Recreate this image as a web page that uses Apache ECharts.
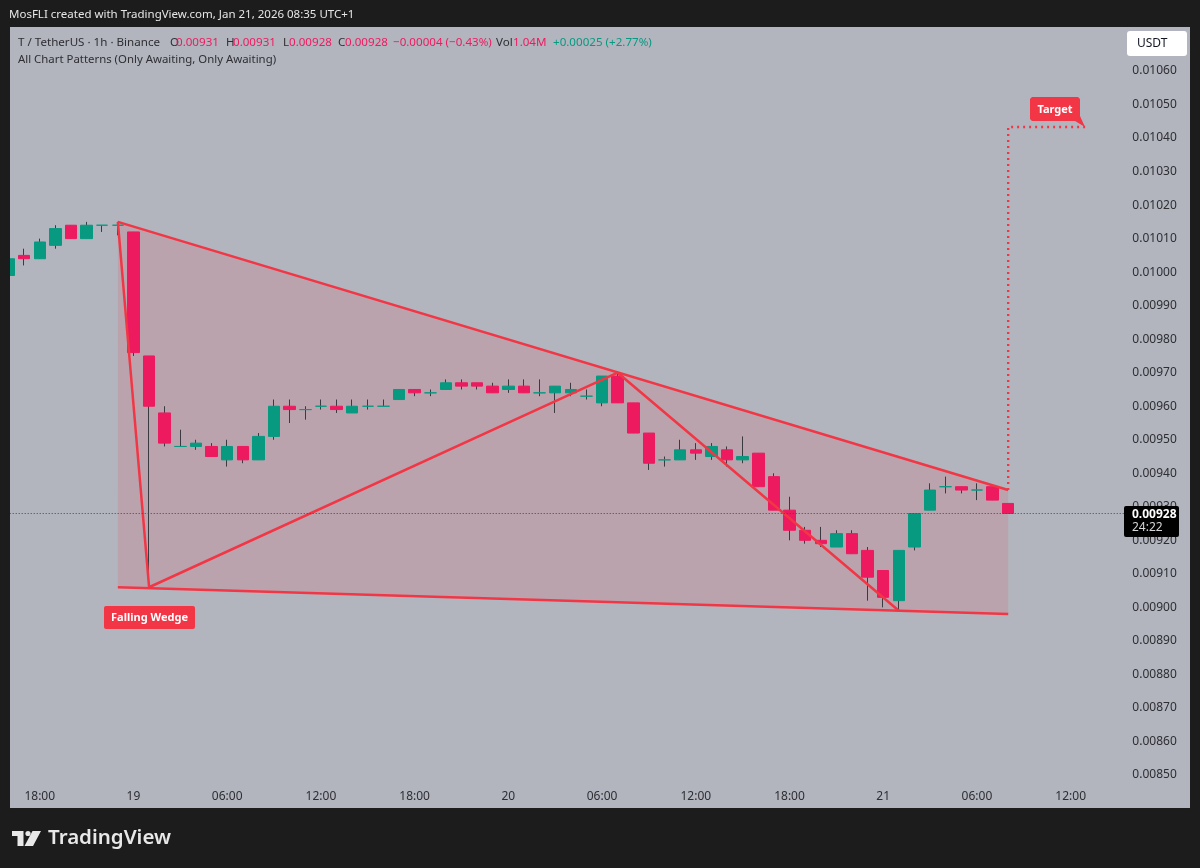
<!DOCTYPE html>
<html>
<head>
    <meta charset="utf-8">
    <title>T / TetherUS 1h</title>
    <script type="text/javascript" src="https://cdn.jsdelivr.net/npm/echarts@6/dist/echarts.min.js"></script>
    <style type="text/css">
        html, body { margin: 0; padding: 0; background: #1c1c1c; }
        #main { width: 1200px; height: 868px; }
    </style>
</head>
<body>
    <div id="main"></div>
    <script type="text/javascript">
        // hourly candles, starting at 16:00 on the 18th
        var opens = [0.00999,0.01005,0.01004,0.01008,0.01014,0.01010,0.01014,0.01014,0.01012,0.00975,
            0.00958,0.00948,0.00948,0.00948,0.00944,0.00948,0.00944,0.00951,0.00960,0.00959,
            0.00960,0.00960,0.00958,0.00960,0.00960,0.00962,0.00965,0.00964,0.00965,0.00967,
            0.00967,0.00966,0.00965,0.00966,0.00964,0.00964,0.00964,0.00963,0.00961,0.00969,
            0.00961,0.00952,0.00944,0.00944,0.00947,0.00945,0.00947,0.00944,0.00946,0.00939,
            0.00929,0.00923,0.00920,0.00918,0.00922,0.00917,0.00911,0.00902,0.00918,0.00929,
            0.00936,0.00936,0.00935,0.00936,0.00931];
        var closes = [0.01004,0.01004,0.01009,0.01013,0.01010,0.01014,0.01014,0.01014,0.00976,0.00960,
            0.00949,0.00948,0.00949,0.00945,0.00948,0.00944,0.00951,0.00960,0.00959,0.00959,
            0.00960,0.00959,0.00960,0.00960,0.00960,0.00965,0.00964,0.00964,0.00967,0.00966,
            0.00966,0.00964,0.00966,0.00964,0.00964,0.00966,0.00965,0.00963,0.00969,0.00961,
            0.00952,0.00943,0.00944,0.00947,0.00946,0.00948,0.00944,0.00945,0.00936,0.00929,
            0.00923,0.00920,0.00919,0.00922,0.00916,0.00909,0.00903,0.00917,0.00928,0.00935,
            0.00936,0.00935,0.00935,0.00932,0.00928];
        var lows = [0.00999,0.01002,0.01004,0.01007,0.01010,0.01010,0.01012,0.01011,0.00975,0.00906,
            0.00948,0.00948,0.00947,0.00945,0.00942,0.00943,0.00944,0.00950,0.00955,0.00956,
            0.00959,0.00958,0.00958,0.00959,0.00960,0.00962,0.00963,0.00963,0.00965,0.00965,
            0.00965,0.00964,0.00964,0.00964,0.00963,0.00958,0.00963,0.00962,0.00960,0.00961,
            0.00952,0.00941,0.00942,0.00944,0.00944,0.00944,0.00942,0.00943,0.00936,0.00929,
            0.00920,0.00919,0.00918,0.00918,0.00916,0.00902,0.00900,0.00899,0.00917,0.00929,
            0.00934,0.00934,0.00932,0.00932,0.00928];
        var highs = [0.01004,0.01007,0.01010,0.01014,0.01014,0.01015,0.01014,0.01015,0.01012,0.00975,
            0.00960,0.00953,0.00950,0.00949,0.00950,0.00948,0.00952,0.00962,0.00962,0.00960,
            0.00962,0.00962,0.00962,0.00962,0.00962,0.00965,0.00965,0.00965,0.00968,0.00968,
            0.00967,0.00967,0.00968,0.00968,0.00968,0.00966,0.00967,0.00965,0.00969,0.00970,
            0.00961,0.00952,0.00945,0.00950,0.00949,0.00949,0.00948,0.00951,0.00946,0.00940,
            0.00933,0.00924,0.00924,0.00923,0.00923,0.00918,0.00911,0.00917,0.00928,0.00937,
            0.00939,0.00936,0.00937,0.00936,0.00931];

        // time axis: 72 hourly slots, only some of them labelled
        var slotCount = 72;
        var tickSlots = [2, 8, 14, 20, 26, 32, 38, 44, 50, 56, 62, 68];
        var tickLabels = ['18:00', '19', '06:00', '12:00', '18:00', '20', '06:00', '12:00', '18:00', '21', '06:00', '12:00'];

        // falling wedge drawing
        var wedgeSlots = [7, 64];
        var wedgeUpper = [0.01015, 0.00935];
        var wedgeLower = [0.00906, 0.00898];
        var zigzagSlots = [7, 9, 39, 57];
        var zigzagPrices = [0.01015, 0.00906, 0.00970, 0.00899];
        var targetSlots = [64, 64, 69];
        var targetPrices = [0.00935, 0.010433, 0.010433];
        var lastPrice = 0.00928;

        var categories = [];
        for (var i = 0; i < slotCount; i++) {
            var at = tickSlots.indexOf(i);
            categories.push(at >= 0 ? tickLabels[at] : '');
        }

        var candleBodies = [];
        var candleWicks = [];
        for (var j = 0; j < opens.length; j++) {
            candleWicks.push([opens[j], closes[j], lows[j], highs[j]]);
            // body series has no wick of its own, wicks are a different colour
            candleBodies.push([opens[j], closes[j], Math.min(opens[j], closes[j]), Math.max(opens[j], closes[j])]);
        }

        function toPoints(xs, ys) {
            return xs.map(function (x, n) { return [x, ys[n]]; });
        }

        var FONT = '"Noto Sans", sans-serif';
        var RED = '#f23645';
        var DOWN = '#ee1a60';
        var UP = '#089981';
        var TEXT = '#2e2e33';

        // header row pieces
        var legendParts = [
            ['T / TetherUS · 1h · Binance', 18, TEXT],
            ['O', 170, TEXT], ['0.00931', 176, DOWN],
            ['H', 226, TEXT], ['0.00931', 233, DOWN],
            ['L', 283, TEXT], ['0.00928', 289, DOWN],
            ['C', 338, TEXT], ['0.00928', 345, DOWN],
            ['−0.00004 (−0.43%)', 393, DOWN],
            ['Vol', 496, TEXT], ['1.04M', 513, DOWN],
            ['+0.00025 (+2.77%)', 553, UP]
        ];

        function label(text, x, y, color, size, weight, align) {
            return {
                type: 'text', x: x, y: y, z: 100, silent: true,
                style: {
                    text: text, fill: color, font: (weight || 'normal') + ' ' + size + 'px ' + FONT,
                    textAlign: align || 'left', textVerticalAlign: 'middle'
                }
            };
        }

        var graphics = [
            // chart panel
            { type: 'rect', z: -10, shape: { x: 10, y: 27, width: 1180, height: 781 }, style: { fill: '#b2b5be' } },
            { type: 'rect', z: 100, shape: { x: 0, y: 0, width: 10, height: 868 }, style: { fill: '#1c1c1c' } },
            label('MosFLI created with TradingView.com, Jan 21, 2026 08:35 UTC+1', 9, 15, '#e6e6e6', 11.5),
            label('All Chart Patterns (Only Awaiting, Only Awaiting)', 18, 60, TEXT, 11.4),
            // USDT box
            { type: 'rect', z: 100, shape: { x: 1127, y: 31, width: 60, height: 25, r: 3 }, style: { fill: '#ffffff' } },
            label('USDT', 1137, 43.5, '#131722', 12),
            // last price tag
            { type: 'rect', z: 100, shape: { x: 1124, y: 506, width: 55, height: 31, r: 2 }, style: { fill: '#000000' } },
            label('0.00928', 1132, 514.5, '#ffffff', 12, 'bold'),
            label('24:22', 1132, 528, '#d6d6d6', 12),
            // pattern labels
            { type: 'rect', z: 100, shape: { x: 104, y: 606, width: 91, height: 23, r: 2 }, style: { fill: RED } },
            label('Falling Wedge', 149.5, 618, '#ffffff', 11, 'bold', 'center'),
            { type: 'polygon', z: 100, shape: { points: [[1032, 97], [1078, 97], [1080, 99], [1080, 116], [1085, 127], [1075, 121], [1032, 121], [1030, 119], [1030, 99]] }, style: { fill: RED } },
            label('Target', 1055, 109.5, '#ffffff', 11, 'bold', 'center'),
            // logo
            { type: 'polygon', z: 100, shape: { points: [[12, 831], [23.5, 831], [23.5, 846], [17.5, 846], [17.5, 836], [12, 836]] }, style: { fill: '#e8e8e8' } },
            { type: 'circle', z: 100, shape: { cx: 28, cy: 833.5, r: 2.6 }, style: { fill: '#e8e8e8' } },
            { type: 'polygon', z: 100, shape: { points: [[32.5, 831], [41, 831], [33, 846], [24.5, 846]] }, style: { fill: '#e8e8e8' } },
            label('TradingView', 48, 838.5, '#e8e8e8', 20.5, '600')
        ];
        legendParts.forEach(function (part) {
            graphics.push(label(part[0], part[1], 42.5, part[2], 11.6));
        });

        var myChart = echarts.init(document.getElementById('main'));

        var option = {
            animation: false,
            backgroundColor: '#1c1c1c',
            textStyle: { fontFamily: FONT },
            graphic: graphics,
            grid: { left: 0.7, top: 37.5, width: 1124.64, height: 771 },
            xAxis: {
                type: 'category',
                data: categories,
                axisLine: { show: false },
                axisTick: { show: false },
                splitLine: { show: false },
                axisLabel: { inside: true, interval: 0, margin: 6, color: TEXT, fontSize: 12, fontFamily: FONT }
            },
            yAxis: {
                type: 'value',
                position: 'right',
                min: 0.0084,
                max: 0.0107,
                interval: 0.0001,
                axisLine: { show: false },
                axisTick: { show: false },
                splitLine: { show: false },
                axisLabel: {
                    margin: 7,
                    color: TEXT,
                    fontSize: 12,
                    fontFamily: FONT,
                    padding: [2, 0, 0, 0],
                    showMinLabel: false,
                    showMaxLabel: false,
                    formatter: function (v) { return v.toFixed(5); }
                }
            },
            series: [
                {
                    // wedge fill between the two trend lines
                    type: 'custom',
                    silent: true,
                    data: [0],
                    renderItem: function (params, api) {
                        var pts = [
                            api.coord([wedgeSlots[0], wedgeUpper[0]]),
                            api.coord([wedgeSlots[1], wedgeUpper[1]]),
                            api.coord([wedgeSlots[1], wedgeLower[1]]),
                            api.coord([wedgeSlots[0], wedgeLower[0]])
                        ];
                        return { type: 'polygon', shape: { points: pts }, style: { fill: 'rgba(242,54,69,0.14)' } };
                    }
                },
                {
                    type: 'line', silent: true, showSymbol: false,
                    data: toPoints(wedgeSlots, wedgeUpper),
                    lineStyle: { color: RED, width: 2.5 },
                    // last price line runs across the whole pane
                    markLine: {
                        silent: true,
                        symbol: 'none',
                        precision: 5,
                        label: { show: false },
                        lineStyle: { color: '#444450', width: 1, type: [1, 2] },
                        data: [{ yAxis: lastPrice }]
                    }
                },
                {
                    type: 'line', silent: true, showSymbol: false,
                    data: toPoints(wedgeSlots, wedgeLower),
                    lineStyle: { color: RED, width: 2.5 }
                },
                {
                    type: 'line', silent: true, showSymbol: false,
                    data: toPoints(zigzagSlots, zigzagPrices),
                    lineStyle: { color: RED, width: 2.5 }
                },
                {
                    type: 'line', silent: true, showSymbol: false,
                    data: toPoints(targetSlots, targetPrices),
                    lineStyle: { color: RED, width: 2.4, type: [2, 4] }
                },
                {
                    // thin wicks
                    type: 'candlestick',
                    silent: true,
                    barWidth: 1,
                    data: candleWicks,
                    itemStyle: {
                        color: '#3a3a40', color0: '#3a3a40',
                        borderColor: '#3a3a40', borderColor0: '#3a3a40', borderColorDoji: '#3a3a40',
                        borderWidth: 1
                    }
                },
                {
                    type: 'candlestick',
                    silent: true,
                    barWidth: 12,
                    data: candleBodies,
                    itemStyle: {
                        color: UP, color0: DOWN,
                        borderColor: UP, borderColor0: DOWN, borderColorDoji: UP,
                        borderWidth: 1
                    }
                }
            ]
        };

        myChart.setOption(option);
    </script>
</body>
</html>
